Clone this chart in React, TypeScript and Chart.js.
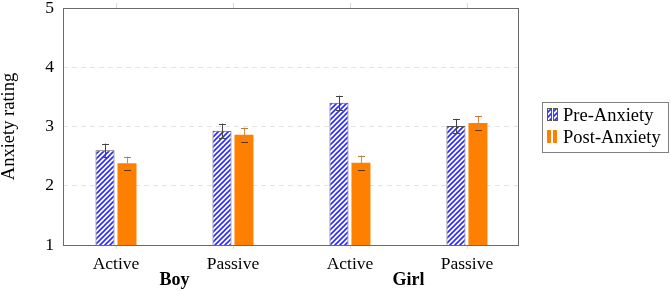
import React, { useEffect, useRef } from "react";
import { Chart, registerables } from "chart.js";

Chart.register(...registerables);

const categories = ["Active", "Passive", "Active", "Passive"];
const groups = ["Boy", "Girl"];
const seriesNames = ["Pre-Anxiety", "Post-Anxiety"];
const preMean = [2.6, 2.93, 3.4, 3.01];
const preErr = [0.11, 0.12, 0.12, 0.12];
const postMean = [2.38, 2.86, 2.39, 3.06];
const postErr = [0.11, 0.12, 0.12, 0.12];
const yTicks = [1, 2, 3, 4, 5];

const FONT = "'Liberation Serif', 'Times New Roman', serif";

function makeHatch(): CanvasPattern | string {
  const c = document.createElement("canvas");
  const s = 5;
  c.width = s;
  c.height = s;
  const g = c.getContext("2d");
  if (!g) return "#3333ff";
  g.fillStyle = "#ffffff";
  g.fillRect(0, 0, s, s);
  g.strokeStyle = "#2b2bff";
  g.lineWidth = 1.6;
  g.beginPath();
  g.moveTo(-1, s + 1);
  g.lineTo(s + 1, -1);
  g.moveTo(-1, 1);
  g.lineTo(1, -1);
  g.moveTo(s - 1, s + 1);
  g.lineTo(s + 1, s - 1);
  g.stroke();
  const p = g.createPattern(c, "repeat");
  return p || "#3333ff";
}

export default function App() {
  const ref = useRef<HTMLCanvasElement | null>(null);

  useEffect(() => {
    const canvas = ref.current;
    if (!canvas) return;
    const hatch = makeHatch();

    const framePlugin = {
      id: "frameAndExtras",
      beforeDatasetsDraw(chart: any) {
        const { ctx, chartArea } = chart;
        const xs = chart.scales.x;
        ctx.save();
        ctx.strokeStyle = "#d8d8d8";
        ctx.lineWidth = 1;
        categories.forEach((_, i) => {
          const px = Math.round(xs.getPixelForValue(i + 1)) + 0.5;
          ctx.beginPath();
          ctx.moveTo(px, chartArea.top - 5);
          ctx.lineTo(px, chartArea.top);
          ctx.moveTo(px, chartArea.bottom);
          ctx.lineTo(px, chartArea.bottom + 4);
          ctx.stroke();
        });
        ctx.restore();
      },
      afterDatasetsDraw(chart: any) {
        const { ctx, chartArea } = chart;
        const ys = chart.scales.y;
        const xs = chart.scales.x;
        const drawErr = (dsIndex: number, means: number[], errs: number[], lineCol: string, capTopCol: string, capBotCol: string) => {
          const meta = chart.getDatasetMeta(dsIndex);
          meta.data.forEach((bar: any, j: number) => {
            const x = Math.round(bar.x) + 0.5;
            const yt = ys.getPixelForValue(means[j] + errs[j]);
            const yb = ys.getPixelForValue(means[j] - errs[j]);
            ctx.save();
            ctx.lineWidth = 1;
            ctx.strokeStyle = lineCol;
            ctx.beginPath();
            ctx.moveTo(x, yt);
            ctx.lineTo(x, yb);
            ctx.stroke();
            ctx.strokeStyle = capTopCol;
            ctx.beginPath();
            ctx.moveTo(x - 3.5, Math.round(yt) + 0.5);
            ctx.lineTo(x + 3.5, Math.round(yt) + 0.5);
            ctx.stroke();
            ctx.strokeStyle = capBotCol;
            ctx.beginPath();
            ctx.moveTo(x - 3.5, Math.round(yb) + 0.5);
            ctx.lineTo(x + 3.5, Math.round(yb) + 0.5);
            ctx.stroke();
            ctx.restore();
          });
        };
        drawErr(0, preMean, preErr, "#444444", "#444444", "#444444");
        drawErr(1, postMean, postErr, "#d98a3c", "#c07a3a", "#5a3a1a");

        ctx.save();
        ctx.strokeStyle = "#6a6a6a";
        ctx.lineWidth = 1;
        ctx.strokeRect(
          Math.round(chartArea.left) + 0.5,
          Math.round(chartArea.top) + 0.5,
          Math.round(chartArea.right - chartArea.left) - 1,
          Math.round(chartArea.bottom - chartArea.top)
        );
        ctx.restore();

        ctx.save();
        ctx.fillStyle = "#000";
        ctx.font = "bold 18px " + FONT;
        ctx.textAlign = "center";
        ctx.textBaseline = "middle";
        groups.forEach((g, gi) => {
          const a = xs.getPixelForValue(gi * 2 + 1);
          const b = xs.getPixelForValue(gi * 2 + 2);
          ctx.fillText(g, (a + b) / 2, 280);
        });
        ctx.restore();
      },
      afterDraw(chart: any) {
        const { ctx, chartArea } = chart;
        const bx = chartArea.right + 23;
        const by = 102;
        ctx.save();
        ctx.fillStyle = "#fff";
        ctx.fillRect(bx, by, 126, 50);
        ctx.strokeStyle = "#808080";
        ctx.lineWidth = 1;
        ctx.strokeRect(Math.round(bx) + 0.5, by + 0.5, 126, 50);
        const rows = [
          { fill: hatch, stroke: "#555555", y: 115 },
          { fill: "#ff8000", stroke: "#ff8000", y: 137 },
        ];
        rows.forEach((r, i) => {
          const x0 = Math.round(bx) + 5;
          [0, 6].forEach((dx) => {
            ctx.fillStyle = r.fill as any;
            ctx.fillRect(x0 + dx, r.y - 7, 4, 13);
            if (i === 0) {
              ctx.strokeStyle = r.stroke;
              ctx.strokeRect(x0 + dx + 0.5, r.y - 7 + 0.5, 4, 12);
            }
          });
          ctx.fillStyle = "#000";
          ctx.font = "18.5px " + FONT;
          ctx.textAlign = "left";
          ctx.textBaseline = "middle";
          ctx.fillText(seriesNames[i], x0 + 16, r.y + 1);
        });
        ctx.restore();
      },
    };

    const chart = new Chart(canvas, {
      type: "bar",
      data: {
        datasets: [
          {
            label: seriesNames[0],
            data: preMean.map((v, i) => ({ x: i + 1, y: v })),
            backgroundColor: hatch as any,
            borderColor: "#555555",
            borderWidth: 1,
            categoryPercentage: 0.376,
            barPercentage: 0.864,
          },
          {
            label: seriesNames[1],
            data: postMean.map((v, i) => ({ x: i + 1, y: v })),
            backgroundColor: "#ff8000",
            borderColor: "#ff9a3a",
            borderWidth: 0,
            categoryPercentage: 0.376,
            barPercentage: 0.864,
          },
        ],
      },
      options: {
        animation: false,
        responsive: false,
        layout: { padding: { left: 0, right: 152, top: 8, bottom: 0 } },
        plugins: {
          legend: { display: false },
          tooltip: { enabled: false },
        },
        scales: {
          x: {
            type: "linear",
            min: 0.547,
            max: 4.445,
            offset: false,
            grid: { display: false, offset: false, drawTicks: false },
            border: { display: false },
            afterBuildTicks: (scale: any) => {
              scale.ticks = categories.map((_, i) => ({ value: i + 1 }));
            },
            afterFit: (scale: any) => {
              scale.height = 46;
              scale.paddingLeft = 0;
              scale.paddingRight = 0;
            },
            ticks: {
              autoSkip: false,
              maxRotation: 0,
              padding: 9,
              color: "#000",
              font: { family: FONT, size: 17.5 },
              callback: (v: any) => categories[Math.round(Number(v)) - 1] ?? "",
            },
          },
          y: {
            min: 1,
            max: 5,
            afterBuildTicks: (scale: any) => {
              scale.ticks = yTicks.map((v) => ({ value: v }));
            },
            afterFit: (scale: any) => {
              scale.width = 63;
              scale.paddingTop = 0;
              scale.paddingBottom = 0;
            },
            grid: {
              drawTicks: false,
              color: (ctx: any) =>
                ctx.tick && (ctx.tick.value === 1 || ctx.tick.value === 5) ? "rgba(0,0,0,0)" : "#e3e3e3",
            },
            border: { display: false, dash: [5, 4] },
            ticks: {
              padding: 9,
              color: "#000",
              font: { family: FONT, size: 17.5 },
            },
            title: {
              display: true,
              text: "Anxiety rating",
              color: "#000",
              font: { family: FONT, size: 18.5, lineHeight: 1 },
              padding: { top: 0, bottom: 0 },
            },
          },
        },
      } as any,
      plugins: [framePlugin],
    });

    return () => chart.destroy();
  }, []);

  return (
    <div style={{ position: "absolute", left: 0, top: 0, width: 671, height: 291, background: "#fff" }}>
      <canvas ref={ref} width={671} height={291} style={{ width: 671, height: 291, display: "block" }} />
    </div>
  );
}
